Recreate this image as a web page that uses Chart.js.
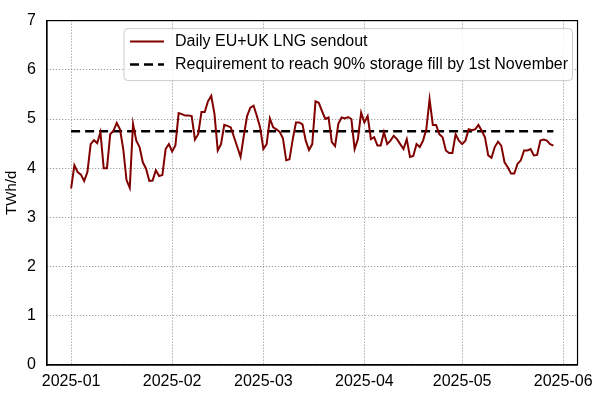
<!DOCTYPE html>
<html>
<head>
<meta charset="utf-8">
<script src="https://cdn.jsdelivr.net/npm/chart.js@4/dist/chart.umd.min.js"></script>
<style>
    body { margin: 0; background: #fff; }
    #wrap { width: 600px; height: 402px; }
</style>
</head>
<body>
<div id="wrap"><canvas id="lngChart"></canvas></div>
<script>
// daily values, 1 Jan 2025 .. 29 May 2025 (day 0 = 1 Jan)
const janSendout = [3.59, 4.06, 3.92, 3.87, 3.74, 3.92, 4.49, 4.57, 4.51, 4.73, 4.00, 4.00, 4.69, 4.76, 4.92, 4.79,
    4.39, 3.76, 3.60, 4.90, 4.56, 4.43, 4.12, 3.99, 3.74, 3.75, 3.96, 3.84, 3.86, 4.39, 4.49];
const febSendout = [4.34, 4.46, 5.12, 5.10, 5.07, 5.07, 5.06, 4.58, 4.69, 5.14, 5.14, 5.36, 5.47, 5.10, 4.36, 4.49,
    4.88, 4.86, 4.83, 4.63, 4.43, 4.23, 4.66, 5.06, 5.23, 5.27, 5.06, 4.83];
const marSendout = [4.39, 4.49, 5.01, 4.83, 4.79, 4.74, 4.61, 4.16, 4.18, 4.58, 4.93, 4.93, 4.89, 4.56, 4.37, 4.49,
    5.36, 5.33, 5.16, 5.00, 5.03, 4.53, 4.45, 4.90, 5.03, 5.01, 5.04, 5.00, 4.39, 4.59, 5.13];
const aprSendout = [4.93, 5.06, 4.59, 4.63, 4.46, 4.46, 4.73, 4.49, 4.56, 4.66, 4.59, 4.49, 4.39, 4.59, 4.23, 4.25,
    4.49, 4.43, 4.56, 4.79, 5.40, 4.88, 4.88, 4.69, 4.63, 4.36, 4.31, 4.31, 4.69, 4.56];
const maySendout = [4.49, 4.56, 4.79, 4.77, 4.79, 4.88, 4.76, 4.63, 4.26, 4.21, 4.43, 4.54, 4.46, 4.12, 4.02, 3.89,
    3.89, 4.09, 4.16, 4.36, 4.36, 4.39, 4.26, 4.27, 4.56, 4.58, 4.56, 4.49, 4.46];

const requirement = 4.75;

const monthStartDays = [0, 31, 59, 90, 120, 151];
const monthLabels = ['2025-01', '2025-02', '2025-03', '2025-04', '2025-05', '2025-06'];
const yTicks = [0, 1, 2, 3, 4, 5, 6, 7];

const sendout = [...janSendout, ...febSendout, ...marSendout, ...aprSendout, ...maySendout];
const sendoutPoints = sendout.map((v, i) => ({ x: i, y: v }));
const lastDay = sendout.length - 1;
const requirementPoints = [{ x: 0, y: requirement }, { x: lastDay, y: requirement }];

const FONT = "'Liberation Sans', Arial, sans-serif";

// box round the plot and the legend drawn inside it, like the original figure
const framePlugin = {
    id: 'frame',
    afterDraw(chart) {
        const ctx = chart.ctx;
        const a = chart.chartArea;
        ctx.save();
        ctx.strokeStyle = '#000';
        ctx.lineWidth = 1.2;
        ctx.strokeRect(a.left, a.top, a.right - a.left, a.bottom - a.top);

        const bx = a.left + 77, by = a.top + 8, bw = a.right - 5 - bx, bh = 52, r = 4;
        ctx.beginPath();
        ctx.moveTo(bx + r, by);
        ctx.arcTo(bx + bw, by, bx + bw, by + bh, r);
        ctx.arcTo(bx + bw, by + bh, bx, by + bh, r);
        ctx.arcTo(bx, by + bh, bx, by, r);
        ctx.arcTo(bx, by, bx + bw, by, r);
        ctx.closePath();
        ctx.fillStyle = 'rgba(255,255,255,0.8)';
        ctx.fill();
        ctx.strokeStyle = '#cccccc';
        ctx.lineWidth = 1;
        ctx.stroke();

        chart.data.datasets.forEach((ds, i) => {
            const ly = by + 13 + i * 23;
            ctx.beginPath();
            ctx.setLineDash(ds.borderDash || []);
            ctx.strokeStyle = ds.borderColor;
            ctx.lineWidth = ds.borderWidth;
            ctx.moveTo(bx + 6, ly);
            ctx.lineTo(bx + 40, ly);
            ctx.stroke();
            ctx.setLineDash([]);
            ctx.fillStyle = '#000';
            ctx.font = '16px ' + FONT;
            ctx.textBaseline = 'middle';
            ctx.textAlign = 'left';
            ctx.fillText(ds.label, bx + 51, ly);
        });
        ctx.restore();
    }
};

const ctx = document.getElementById('lngChart').getContext('2d');
new Chart(ctx, {
    type: 'line',
    data: {
        datasets: [{
            label: 'Daily EU+UK LNG sendout',
            data: sendoutPoints,
            borderColor: '#800000',
            borderWidth: 2,
            pointRadius: 0,
            tension: 0,
            fill: false
        }, {
            label: 'Requirement to reach 90% storage fill by 1st November',
            data: requirementPoints,
            borderColor: '#000000',
            borderWidth: 2.5,
            borderDash: [9, 5],
            pointRadius: 0,
            fill: false
        }]
    },
    options: {
        responsive: true,
        maintainAspectRatio: false,
        animation: false,
        layout: { padding: { left: 0, right: 17, top: 17, bottom: 0 } },
        plugins: {
            legend: { display: false },
            tooltip: { enabled: false }
        },
        scales: {
            x: {
                type: 'linear',
                min: -7.4,
                max: lastDay + 7.4,
                afterBuildTicks: (axis) => {
                    axis.ticks = monthStartDays.map(v => ({ value: v }));
                },
                afterFit: (axis) => { axis.height = 37; },
                ticks: {
                    callback: (value) => monthLabels[monthStartDays.indexOf(value)],
                    color: '#000',
                    font: { family: FONT, size: 16 },
                    padding: 7,
                    maxRotation: 0,
                    autoSkip: false
                },
                grid: { color: '#888', lineWidth: 1, drawTicks: false },
                border: { display: true, color: '#000', width: 1.2, dash: [1, 2] }
            },
            y: {
                min: 0,
                max: 7,
                afterBuildTicks: (axis) => {
                    axis.ticks = yTicks.map(v => ({ value: v }));
                },
                afterFit: (axis) => { axis.width = 47; },
                ticks: {
                    color: '#000',
                    font: { family: FONT, size: 16 },
                    padding: 11
                },
                title: {
                    display: true,
                    text: 'TWh/d',
                    color: '#000',
                    font: { family: FONT, size: 15 },
                    padding: { top: 3, bottom: 0 }
                },
                grid: { color: '#888', lineWidth: 1, drawTicks: false },
                border: { display: true, color: '#000', width: 1.2, dash: [1, 2] }
            }
        }
    },
    plugins: [framePlugin]
});
</script>
</body>
</html>
